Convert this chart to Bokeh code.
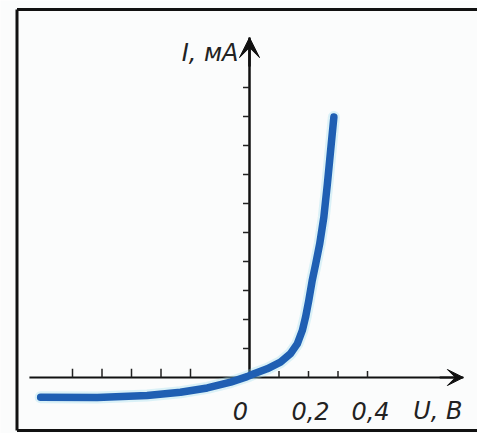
from bokeh.plotting import figure
from bokeh.models import Arrow, VeeHead, ColumnDataSource
from bokeh.core.properties import value
from bokeh.embed import file_html
from bokeh.resources import INLINE

# --- data ---
voltage_v = [-0.708, -0.516, -0.347, -0.234, -0.143, -0.064, -0.008, 0.015, 0.060,
             0.105, 0.139, 0.162, 0.179, 0.190, 0.201, 0.2125, 0.224, 0.238,
             0.252, 0.264, 0.275, 0.286]
current_ma = [-0.68, -0.69, -0.62, -0.51, -0.36, -0.16, 0.03, 0.13, 0.30,
              0.53, 0.82, 1.16, 1.62, 2.08, 2.66, 3.34, 3.90, 4.61,
              5.53, 6.68, 7.83, 8.98]

x_ticks_neg = [-0.6, -0.5, -0.4, -0.3, -0.2]
x_ticks_pos = [0.1, 0.2, 0.3, 0.4]
y_ticks = [1, 2, 3, 4, 5, 6, 7, 8, 9, 10]
x_tick_labels = ["0", "0,2", "0,4"]
x_tick_label_pos = [0.0, 0.2, 0.4]
x_axis_extent = [-0.746, 0.725]
y_axis_extent = [0.0, 11.72]

W, H = 477, 433
OFF = 0
PX_PER_V = 295.0
PX_PER_MA = 29.0
x0_page, y0_page = 249, 377
xr = ((OFF - x0_page) / PX_PER_V, (OFF + W - x0_page) / PX_PER_V)
yr = ((y0_page - (OFF + H)) / PX_PER_MA, (y0_page - OFF) / PX_PER_MA)

p = figure(width=W, height=H, x_range=xr, y_range=yr,
           x_axis_type=None, y_axis_type=None,
           output_backend="svg", toolbar_location=None,
           min_border=0)
p.outline_line_color = None
p.background_fill_color = "#fbfcfc"
p.border_fill_color = "#fbfcfc"
p.grid.visible = False

def px2v(px):
    return (px - x0_page) / PX_PER_V

def py2i(py):
    return (y0_page - py) / PX_PER_MA

# frame of the printed figure
fx = px2v(16.5)
ft = py2i(9)
fb = py2i(min(430, OFF + H - 2))
p.segment(x0=[fx, fx, fx], y0=[fb, ft, fb], x1=[fx, xr[1], xr[1]], y1=[ft, ft, fb],
          line_color="#111111", line_width=3)

# axes
p.segment(x0=[x_axis_extent[0]], y0=[0], x1=[x_axis_extent[1]], y1=[0],
          line_color="#111111", line_width=2)
p.segment(x0=[0], y0=[y_axis_extent[0]], x1=[0], y1=[y_axis_extent[1]],
          line_color="#111111", line_width=2.5)
p.add_layout(Arrow(end=VeeHead(size=16, fill_color="#111111", line_color="#111111"),
                   x_start=x_axis_extent[1] - 0.08, y_start=0,
                   x_end=x_axis_extent[1], y_end=0,
                   line_color="#111111", line_width=2))
p.add_layout(Arrow(end=VeeHead(size=20, fill_color="#111111", line_color="#111111"),
                   x_start=0, y_start=y_axis_extent[1] - 1.0,
                   x_end=0, y_end=y_axis_extent[1],
                   line_color="#111111", line_width=2.5))

# ticks
p.segment(x0=x_ticks_neg, y0=[0] * len(x_ticks_neg), x1=x_ticks_neg,
          y1=[0.3] * len(x_ticks_neg), line_color="#222222", line_width=1.5)
p.segment(x0=x_ticks_pos, y0=[0] * len(x_ticks_pos), x1=x_ticks_pos,
          y1=[0.22] * len(x_ticks_pos), line_color="#222222", line_width=1.5)
p.segment(x0=[0] * len(y_ticks), y0=y_ticks, x1=[-0.022] * len(y_ticks), y1=y_ticks,
          line_color="#222222", line_width=1.5)

# curve with faint halo
src = ColumnDataSource(dict(u=voltage_v, i=current_ma))
p.line("u", "i", source=src, line_color="#9fdcef", line_width=12, line_alpha=0.35,
       line_cap="round", line_join="round")
p.line("u", "i", source=src, line_color="#1f5fb3", line_width=7.5,
       line_cap="round", line_join="round")

# labels
font = value("DejaVu Sans")
p.text(x=x_tick_label_pos, y=[0] * 3, text=x_tick_labels,
       x_offset=[-9, 2, 3], y_offset=[33, 33, 33],
       text_align="center", text_baseline="middle",
       text_font=font, text_font_style="italic", text_font_size="24px",
       text_color="#222222")
p.text(x=[px2v(462)], y=[py2i(410)], text=["U, B"],
       text_align="right", text_baseline="middle",
       text_font=font, text_font_style="italic", text_font_size="24px",
       text_color="#222222")
p.text(x=[px2v(238)], y=[py2i(52)], text=["I, мА"],
       text_align="right", text_baseline="middle",
       text_font=font, text_font_style="italic", text_font_size="24px",
       text_color="#222222")

open("out.html", "w").write(file_html(p, INLINE))
